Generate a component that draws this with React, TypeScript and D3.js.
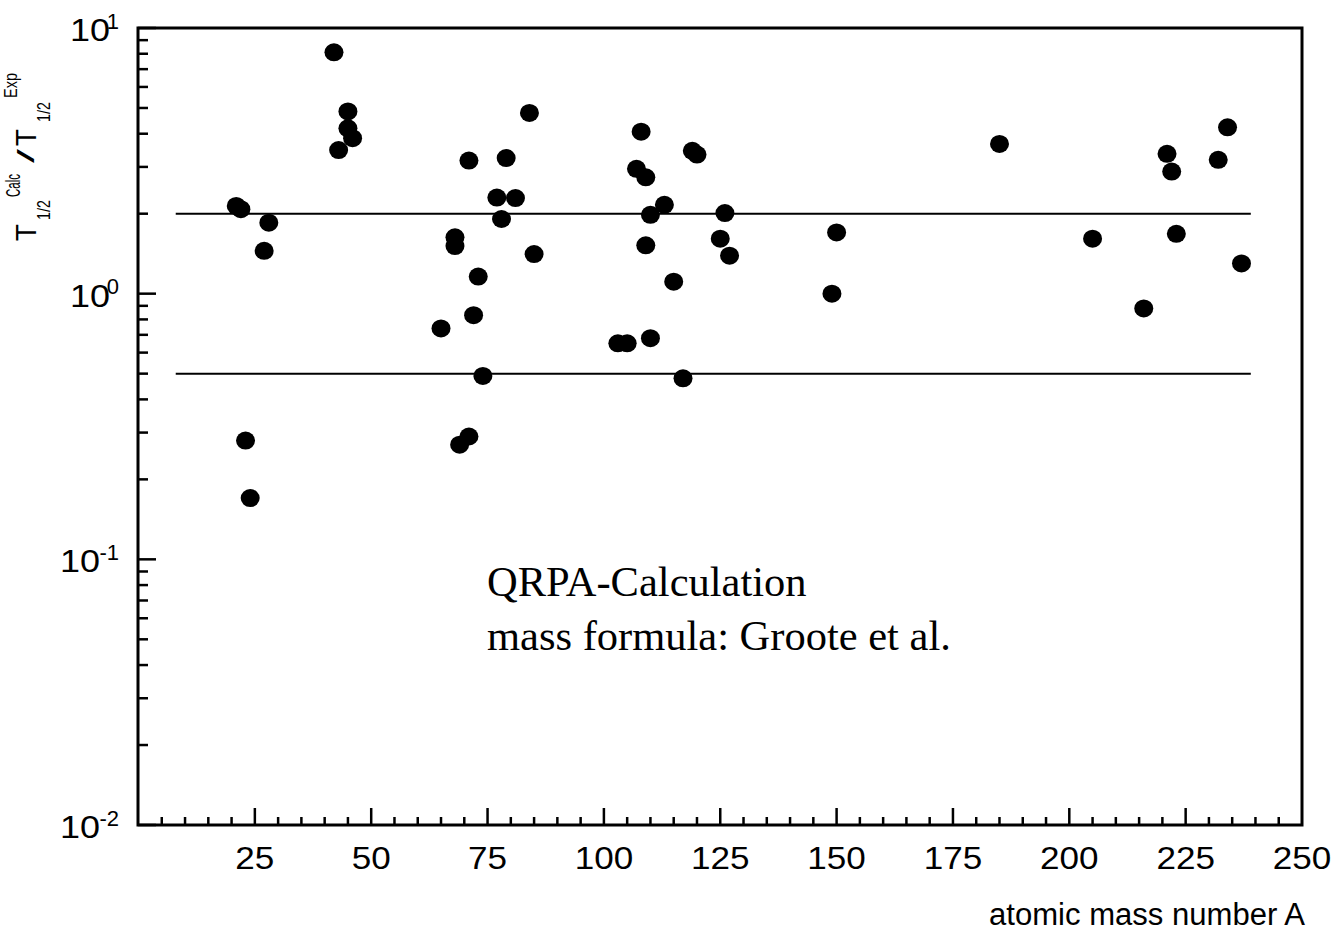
import React, { useEffect, useRef } from 'react';
import * as d3 from 'd3';

// atomic mass number A of each nucleus and the ratio T1/2(calc) / T1/2(exp)
const massNumbers = [
  21, 22, 23, 24, 27, 28, 42, 43, 45, 45, 46, 65, 68, 68, 69, 71, 71, 72, 73, 74,
  77, 78, 79, 81, 84, 85, 103, 105, 107, 108, 109, 109, 110, 110, 113, 115, 117,
  119, 120, 125, 126, 127, 149, 150, 185, 205, 216, 221, 222, 223, 232, 234, 237
];
const ratios = [
  2.14, 2.08, 0.28, 0.17, 1.45, 1.85, 8.1, 3.47, 4.85, 4.19, 3.85, 0.74, 1.63, 1.51,
  0.27, 0.29, 3.17, 0.83, 1.16, 0.49, 2.3, 1.91, 3.24, 2.29, 4.79, 1.41, 0.65, 0.65,
  2.95, 4.07, 2.74, 1.52, 1.98, 0.68, 2.16, 1.11, 0.48, 3.45, 3.34, 1.61, 2.01, 1.39,
  1.0, 1.7, 3.66, 1.61, 0.88, 3.36, 2.88, 1.68, 3.19, 4.23, 1.3
];

const xDomain = [0, 250];
const yDomain = [0.01, 10];
const yExponents = [-2, -1, 0, 1];
const guideLevels = [0.5, 2];
const guideSpan = [8, 239];
const noteLines = ['QRPA-Calculation', 'mass formula: Groote et al.'];
const xTitle = 'atomic mass number A';

const App = () => {
  const svgRef = useRef(null);

  useEffect(() => {
    const svg = d3.select(svgRef.current);
    svg.selectAll('*').remove();

    const left = 138;
    const right = 1302;
    const top = 28;
    const bottom = 825;
    const sans = "'Liberation Sans', Arial, sans-serif";
    const serif = "'Liberation Serif', 'Times New Roman', serif";

    const x = d3.scaleLinear().domain(xDomain).range([left + 0.5, right]);
    const y = d3.scaleLog().domain(yDomain).range([bottom, top]);

    svg.append('rect').attr('width', 1334).attr('height', 934).attr('fill', '#fff');

    // guide lines at factor 2 above / below
    svg
      .selectAll('line.guide')
      .data(guideLevels)
      .join('line')
      .attr('class', 'guide')
      .attr('x1', x(guideSpan[0]))
      .attr('x2', x(guideSpan[1]))
      .attr('y1', (d) => y(d))
      .attr('y2', (d) => y(d))
      .attr('stroke', '#000')
      .attr('stroke-width', 2);

    // points
    svg
      .append('g')
      .selectAll('ellipse')
      .data(massNumbers)
      .join('ellipse')
      .attr('cx', (d) => x(d))
      .attr('cy', (d, i) => y(ratios[i]))
      .attr('rx', 9.5)
      .attr('ry', 9)
      .attr('fill', '#000');

    // y ticks (inside)
    const yMinor: number[] = [];
    yExponents.slice(0, -1).forEach((e) => {
      for (let k = 2; k <= 9; k++) yMinor.push(k * Math.pow(10, e));
    });
    svg
      .append('g')
      .selectAll('line')
      .data(yMinor)
      .join('line')
      .attr('x1', left)
      .attr('x2', left + 10)
      .attr('y1', (d) => y(d))
      .attr('y2', (d) => y(d))
      .attr('stroke', '#000')
      .attr('stroke-width', 2.5);
    svg
      .append('g')
      .selectAll('line')
      .data(yExponents)
      .join('line')
      .attr('x1', left)
      .attr('x2', left + 18)
      .attr('y1', (d) => y(Math.pow(10, d)))
      .attr('y2', (d) => y(Math.pow(10, d)))
      .attr('stroke', '#000')
      .attr('stroke-width', 2.5);

    // y tick labels 10^n
    const yLab = svg.append('g').attr('font-family', sans).attr('fill', '#000');
    yExponents.forEach((e) => {
      const ty = y(Math.pow(10, e));
      const ex = String(e);
      yLab
        .append('text')
        .attr('x', 120 - 10 * ex.length)
        .attr('y', ty + 13)
        .attr('text-anchor', 'end')
        .attr('font-size', 32)
        .attr('textLength', 40)
        .attr('lengthAdjust', 'spacingAndGlyphs')
        .text('10');
      yLab
        .append('text')
        .attr('x', 119)
        .attr('y', ty + 0.5)
        .attr('text-anchor', 'end')
        .attr('font-size', 22)
        .text(ex);
    });

    // x ticks (inside)
    const xTickVals = d3.range(5, 250, 5);
    svg
      .append('g')
      .selectAll('line')
      .data(xTickVals)
      .join('line')
      .attr('x1', (d) => x(d))
      .attr('x2', (d) => x(d))
      .attr('y1', bottom)
      .attr('y2', (d) => (d % 25 === 0 ? bottom - 17 : bottom - 8))
      .attr('stroke', '#000')
      .attr('stroke-width', 2.5);

    svg
      .append('g')
      .selectAll('text')
      .data(d3.range(25, 251, 25))
      .join('text')
      .attr('x', (d) => x(d))
      .attr('y', 869)
      .attr('text-anchor', 'middle')
      .attr('font-family', sans)
      .attr('font-size', 32)
      .attr('textLength', (d) => String(d).length * 19.5)
      .attr('lengthAdjust', 'spacingAndGlyphs')
      .text((d) => d);

    // frame
    svg
      .append('rect')
      .attr('x', left)
      .attr('y', top)
      .attr('width', right - left)
      .attr('height', bottom - top)
      .attr('fill', 'none')
      .attr('stroke', '#000')
      .attr('stroke-width', 3);

    // x title
    svg
      .append('text')
      .attr('x', 1305)
      .attr('y', 925)
      .attr('text-anchor', 'end')
      .attr('font-family', sans)
      .attr('font-size', 31)
      .attr('textLength', 316)
      .attr('lengthAdjust', 'spacingAndGlyphs')
      .text(xTitle);

    // y title: T_1/2^Calc / T_1/2^Exp, rotated, built piece by piece
    const yTitleParts = [
      { t: 'T', start: 241, len: 17, base: 36, size: 30 },
      { t: '1/2', start: 220, len: 20, base: 50, size: 19 },
      { t: 'Calc', start: 197, len: 23, base: 20, size: 21 },
      { t: '/', start: 163, len: 14, base: 34, size: 24 },
      { t: 'T', start: 146, len: 17, base: 36, size: 30 },
      { t: '1/2', start: 122, len: 20, base: 50, size: 19 },
      { t: 'Exp', start: 98, len: 25, base: 17, size: 19 }
    ];
    svg
      .append('g')
      .selectAll('text')
      .data(yTitleParts)
      .join('text')
      .attr('transform', (d) => `translate(${d.base},${d.start}) rotate(-90)`)
      .attr('font-family', sans)
      .attr('font-size', (d) => d.size)
      .attr('textLength', (d) => d.len)
      .attr('lengthAdjust', 'spacingAndGlyphs')
      .text((d) => d.t);

    // annotation
    svg
      .append('g')
      .selectAll('text')
      .data(noteLines)
      .join('text')
      .attr('x', 487)
      .attr('y', (d, i) => 596 + i * 53.5)
      .attr('font-family', serif)
      .attr('font-size', 42.5)
      .text((d) => d);
  }, []);

  return (
    <svg
      ref={svgRef}
      width={1334}
      height={934}
      style={{ position: 'absolute', left: 0, top: 0 }}
    ></svg>
  );
};

export default App;
